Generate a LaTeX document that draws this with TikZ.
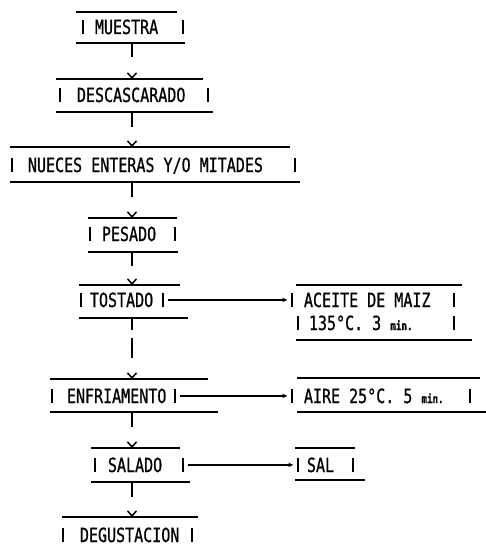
\documentclass[tikz,border=0pt]{standalone}
\usepackage{fontspec}
\newfontfamily\pf[FakeStretch=0.77,FakeBold=0.8]{DejaVu Sans Mono}
\usetikzlibrary{arrows.meta}
\newcommand\vb{\hbox to 9.5pt{\hss\rule{2pt}{14pt}\hss}}
\newcommand\bx[3]{\makebox[#1][l]{\vb\hspace{#2}#3\hfill\vb}}
\newcommand\mn{{\fontsize{12}{12}\selectfont\bfseries min.}}
\newcommand\lbf{\pf\fontsize{19.5}{22}\selectfont}
\begin{document}
\begin{tikzpicture}[x=1pt,y=-1pt,
  rl/.style={line width=1.5pt},
  conn/.style={line width=1.7pt,-{Straight Barb[length=5pt,width=9pt,line width=1.5pt]}},
  side/.style={line width=1.2pt,-{Stealth[length=5pt,width=4.5pt]}},
  lbl/.style={inner sep=0pt,anchor=base west,font=\lbf}]
\useasboundingbox (0,0) rectangle (486,548);
% boxes (text lines)
\node[lbl] (muestra) at (78.25,34) {\bx{109.5pt}{7pt}{MUESTRA}};
\node[lbl] (desc) at (55.25,102) {\bx{157.5pt}{12pt}{DESCASCARADO}};
\node[lbl] (nueces) at (7.25,172) {\bx{292.5pt}{11pt}{NUECES ENTERAS Y/O MITADES}};
\node[lbl] (pesado) at (85.25,241) {\bx{94.5pt}{7pt}{PESADO}};
\node[lbl] (tost) at (76.25,307) {\bx{91pt}{4pt}{TOSTADO}};
\node[lbl] (enf) at (47.25,403) {\bx{132.5pt}{10pt}{ENFRIAMENTO}};
\node[lbl] (salado) at (90.25,472) {\bx{97.5pt}{8pt}{SALADO}};
\node[lbl] (degust) at (58.25,542) {\bx{138.5pt}{12pt}{DEGUSTACION}};
\node[lbl] (aceite) at (287.25,307) {\bx{171.5pt}{7pt}{ACEITE DE MAIZ}};
\node[lbl] (aceite2) at (293.25,330) {\bx{165.5pt}{6pt}{135°C. 3 \mn}};
\node[lbl] (aire) at (287.25,403) {\bx{187.5pt}{7pt}{AIRE 25°C. 5 \mn}};
\node[lbl] (sal) at (293.25,472) {\bx{64.5pt}{4pt}{SAL}};
% rules
\draw[rl] (76,12) -- (177,12) (76,43) -- (185,43);
\draw[rl] (56,79) -- (203,79) (56,112) -- (213,112);
\draw[rl] (10,147) -- (290,147) (10,182) -- (300,182);
\draw[rl] (88,218) -- (177,218) (88,252) -- (178,252);
\draw[rl] (79,285) -- (180,285) (79,318) -- (188,318);
\draw[rl] (50,379) -- (208,379) (50,412) -- (218,412);
\draw[rl] (91,448) -- (180,448) (91,482) -- (190,482);
\draw[rl] (62,517) -- (198,517);
\draw[rl] (296,285) -- (462,285) (296,340) -- (472,340);
\draw[rl] (297,378) -- (480,378) (297,412) -- (486,412);
\draw[rl] (295,448) -- (355,448) (295,480) -- (365,480);
% connector ends
\coordinate (muestra-b) at (132,43);
\coordinate (desc-t) at (132,79);
\coordinate (desc-b) at (132,112);
\coordinate (nueces-t) at (132,147);
\coordinate (nueces-b) at (132,182);
\coordinate (pesado-t) at (132,218);
\coordinate (pesado-b) at (132,252);
\coordinate (tost-t) at (132,285);
\coordinate (tost-b) at (132,318);
\coordinate (enf-t) at (132,379);
\coordinate (enf-b) at (132,412);
\coordinate (salado-t) at (132,448);
\coordinate (salado-b) at (132,482);
\coordinate (degust-t) at (132,517);
% connectors
\draw[conn,dash pattern=on 14pt off 200pt] (muestra-b) -- (desc-t);
\draw[conn,dash pattern=on 15pt off 200pt] (desc-b) -- (nueces-t);
\draw[conn,dash pattern=on 15pt off 200pt] (nueces-b) -- (pesado-t);
\draw[conn,dash pattern=on 14pt off 200pt] (pesado-b) -- (tost-t);
\draw[conn,dash pattern=on 12pt off 8pt on 20pt off 200pt] (tost-b) -- (enf-t);
\draw[conn,dash pattern=on 15pt off 200pt] (enf-b) -- (salado-t);
\draw[conn,dash pattern=on 15pt off 200pt] (salado-b) -- (degust-t);
\draw[side] (tost.east) -- (tost.east -| aceite.west);
\draw[side] (enf.east) -- (enf.east -| aire.west);
\draw[side] (salado.east) -- (salado.east -| sal.west);
\end{tikzpicture}
\end{document}
